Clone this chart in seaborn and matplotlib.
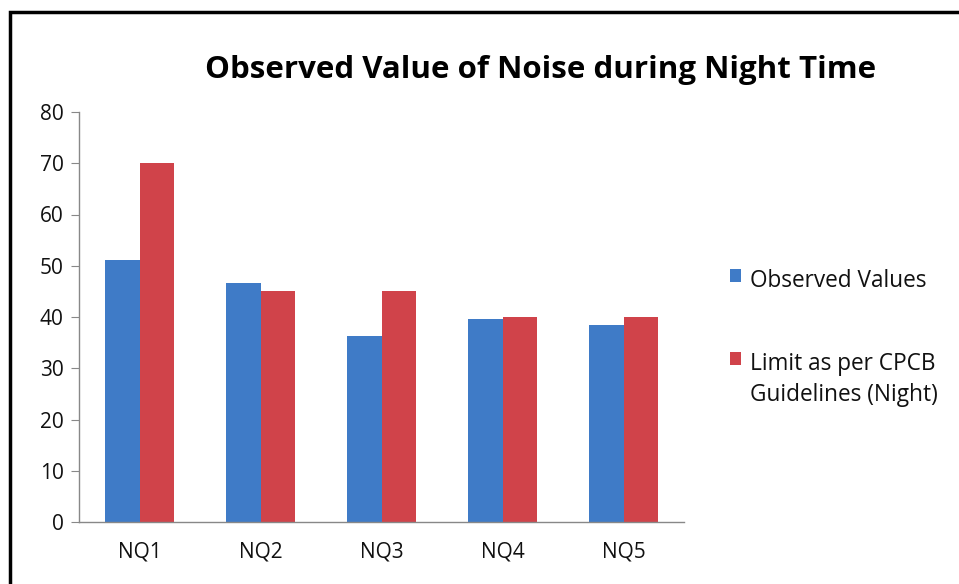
import matplotlib.pyplot as plt
import seaborn as sns
import pandas as pd
from matplotlib.patches import Rectangle

# Data
stations = ["NQ1", "NQ2", "NQ3", "NQ4", "NQ5"]
observed = [51.1, 46.6, 36.3, 39.6, 38.5]
limit = [70, 45, 45, 40, 40]
series_names = ["Observed Values", "Limit as per CPCB\nGuidelines (Night)"]

df = pd.DataFrame({
    "Station": stations * 2,
    "Value": observed + limit,
    "Series": [series_names[0]] * len(stations) + [series_names[1]] * len(stations),
})

sns.set_style("white")
plt.rcParams['font.family'] = ['Open Sans', 'DejaVu Sans']
plt.rcParams['text.color'] = '#111111'
plt.rcParams['xtick.color'] = '#111111'
plt.rcParams['ytick.color'] = '#111111'

fig = plt.figure(figsize=(9.59, 5.84), dpi=100)
ax = fig.add_axes([79 / 959, 1 - 522 / 584, (684 - 79) / 959, (522 - 112) / 584])

palette = {series_names[0]: "#3F7BC7", series_names[1]: "#D0434A"}
sns.barplot(data=df, x="Station", y="Value", hue="Series", palette=palette,
            width=0.57, saturation=1, linewidth=0, ax=ax, legend=True)

ax.set_ylim(0, 80)
ax.set_xlim(-0.5, 4.5)
ax.set_yticks(range(0, 81, 10))
ax.set_xlabel("")
ax.set_ylabel("")
ax.set_xticks([i - 0.5 for i in range(6)], minor=True)
ax.tick_params(axis="x", which="major", length=0, pad=14, labelsize=15, labelcolor="#111111")
ax.tick_params(axis="x", which="minor", length=6, color="#888888", direction="out")
ax.tick_params(axis="y", length=6, color="#888888", direction="out", labelsize=15,
               pad=5, labelcolor="#111111")
ax.tick_params(axis="both", bottom=True, left=True)
for side in ["top", "right"]:
    ax.spines[side].set_visible(False)
for side in ["left", "bottom"]:
    ax.spines[side].set_color("#888888")
    ax.spines[side].set_linewidth(1)

leg = ax.legend(loc="upper left", bbox_to_anchor=(1.042, 0.667), frameon=False,
                fontsize=16.3, handlelength=0.5, handleheight=0.5, handletextpad=0.4,
                labelspacing=2.6)
for t in leg.get_texts():
    t.set_linespacing(1.38)
# put the marker next to the first line of a wrapped label
for col in leg._legend_handle_box.get_children():
    for item in col.get_children():
        item.align = "top"

fig.text(541 / 959, 1 - 70 / 584, "Observed Value of Noise during Night Time",
         ha="center", va="center", fontsize=22.5, fontweight="bold", color="black")

# chart border
fig.patches.append(Rectangle((10 / 959, -0.05), 1.1, 1 - 12 / 584 + 0.05,
                             transform=fig.transFigure, fill=False,
                             edgecolor="black", linewidth=2.5))

plt.savefig("out.png", dpi=100)
